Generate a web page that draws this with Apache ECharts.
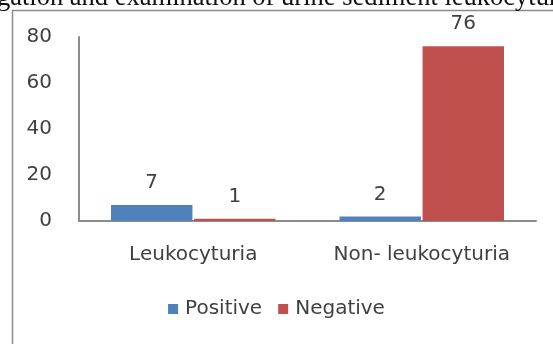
<!DOCTYPE html>
<html><head><meta charset="utf-8">
<script src="https://cdn.jsdelivr.net/npm/echarts@6/dist/echarts.min.js"></script>
<style>html,body{margin:0;padding:0;background:#fff;overflow:hidden}#c{width:553px;height:344px}</style>
</head><body><div id="c"></div>
<script>
var categories = ['Leukocyturia', 'Non- leukocyturia'];
var positiveValues = [7, 2];
var negativeValues = [1, 76];
var seriesNames = ['Positive', 'Negative'];
var yTicks = [0, 20, 40, 60, 80];

var chart = echarts.init(document.getElementById('c'));
var font = '"DejaVu Sans", sans-serif';
chart.setOption({
  animation: false,
  backgroundColor: '#fff',
  graphic: [
    { type: 'rect', shape: { x: 12.5, y: 10.5, width: 600, height: 400 }, style: { fill: 'none', stroke: '#8c8c8c', lineWidth: 1.5 }, z: 10 },
    { type: 'text', left: -3, top: -15, style: { text: 'gation and examination of urine sediment leukocyturia', font: '26.5px "Liberation Serif", serif', fill: '#111' }, z: 10 }
  ],
  grid: { left: 79, right: 17, top: 37, bottom: 123 },
  legend: {
    data: seriesNames, bottom: 20, left: 'center', itemWidth: 10, itemHeight: 10, itemGap: 16, icon: 'rect',
    textStyle: { fontFamily: font, fontSize: 20, color: '#404040', padding: [0, 0, 0, 2] }
  },
  xAxis: {
    type: 'category', data: categories,
    axisLine: { lineStyle: { color: '#8c8c8c', width: 2 } },
    axisTick: { show: false },
    axisLabel: { interval: 0, fontFamily: font, fontSize: 20, color: '#404040', margin: 24 }
  },
  yAxis: {
    type: 'value', min: yTicks[0], max: yTicks[yTicks.length - 1], interval: 20,
    axisLine: { show: true, lineStyle: { color: '#8c8c8c', width: 2 } },
    axisTick: { show: false },
    splitLine: { show: false },
    axisLabel: { fontFamily: font, fontSize: 20, color: '#404040', margin: 27 }
  },
  series: [
    { name: seriesNames[0], type: 'bar', data: positiveValues, barGap: '2%', barCategoryGap: '28%',
      itemStyle: { color: '#4F81BD' },
      label: { show: true, position: 'top', distance: 12, fontFamily: font, fontSize: 20, color: '#404040' } },
    { name: seriesNames[1], type: 'bar', data: negativeValues,
      itemStyle: { color: '#C0504D' },
      label: { show: true, position: 'top', distance: 12, fontFamily: font, fontSize: 20, color: '#404040' } }
  ]
});
</script></body></html>
